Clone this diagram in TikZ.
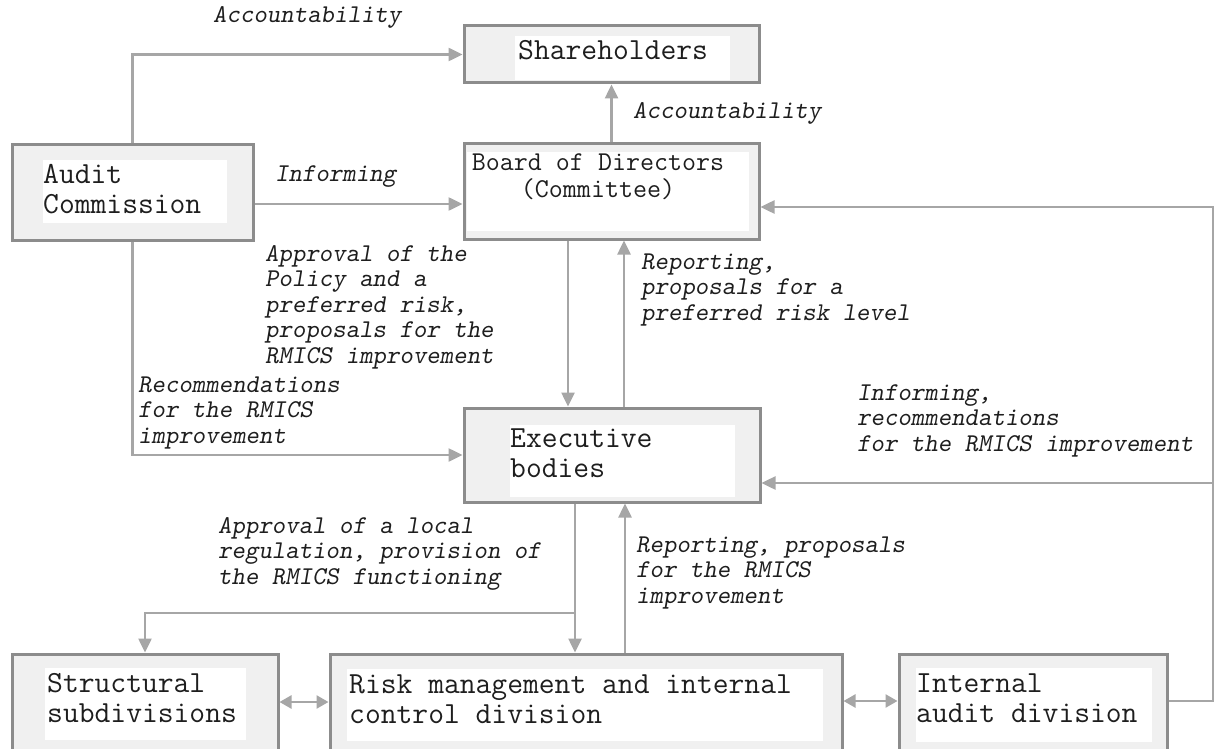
\documentclass[tikz,border=0pt]{standalone}
\usepackage{fontspec}
\usetikzlibrary{arrows.meta}
\definecolor{frame}{HTML}{8C8C8C}
\definecolor{panel}{HTML}{F0F0F0}
\definecolor{wire}{HTML}{A6A6A6}
\definecolor{ink}{HTML}{1E1E1E}
% left- or centre-aligned stack of lines whose baseline is the first line
\newcommand{\stack}[2][l]{\begin{tabular}[t]{@{}#1@{}}#2\end{tabular}}

\begin{document}
\begin{tikzpicture}[x=1pt,y=-1pt,
  box/.style={draw=frame, fill=panel, line width=3pt, rectangle, inner sep=0pt},
  boxtext/.style={text=ink, inner sep=0pt, anchor=base west,
    font=\fontsize{30.7}{30}\selectfont\ttfamily},
  note/.style={text=ink, inner sep=0pt, anchor=base west,
    font=\fontsize{25.6}{25.5}\selectfont\ttfamily\slshape},
  arr/.style={draw=wire, line width=2.5pt, -{Triangle[length=14pt,width=13pt]}},
  twoway/.style={draw=wire, line width=2.5pt,
    {Triangle[length=12pt,width=13pt]}-{Triangle[length=12pt,width=13pt]}},
]
\useasboundingbox (0,0) rectangle (1215,749);
\clip (0,0) rectangle (1215,749);
\fill[white] (0,0) rectangle (1215,749);

% ---- boxes ----
\node[box, minimum width=295pt, minimum height=57pt]  (sh) at (611.5,54.5) {};
\node[box, minimum width=295pt, minimum height=95pt]  (bd) at (611.5,191.5) {};
\node[box, minimum width=241pt, minimum height=95pt]  (ac) at (132.5,192.5) {};
\node[box, minimum width=296pt, minimum height=94pt]  (ex) at (612,455) {};
\node[box, minimum width=266pt, minimum height=102pt] (st) at (145,705) {};
\node[box, minimum width=512pt, minimum height=102pt] (rk) at (586,705) {};
\node[box, minimum width=268pt, minimum height=102pt] (ia) at (1033,705) {};

% white panes inside the boxes
\fill[white] (515,36) rectangle (730,80);
\fill[white] (467,152) rectangle (749,231);
\fill[white] (43,160) rectangle (227,223);
\fill[white] (510,425) rectangle (735,497);
\fill[white] (45,668) rectangle (246,740);
\fill[white] (347,669) rectangle (823,741);
\fill[white] (916,668) rectangle (1152,742);

% ---- box captions ----
\node[boxtext] (sh-t) at (518,60) {Shareholders};
\node[boxtext, anchor=base, font=\fontsize{27.2}{27}\selectfont\ttfamily] (bd-t) at (598,170)
  {\stack[c]{Board of Directors\\(Committee)}};
\node[boxtext] (ac-t) at (43,183) {\stack{Audit\\Commission}};
\node[boxtext] (ex-t) at (510,447) {\stack{Executive\\bodies}};
\node[boxtext] (st-t) at (47,692) {\stack{Structural\\subdivisions}};
\node[boxtext] (rk-t) at (349,693) {\stack{Risk management and internal\\control division}};
\node[boxtext] (ia-t) at (916,692) {\stack{Internal\\audit division}};

% ---- connectors ----
\draw[arr] (ac.north) |- (sh.west);
\draw[arr] ([yshift=-11.5pt]ac.east) -- ([yshift=-12.5pt]bd.west);
\draw[arr] (ac.south) |- (ex.west);
\draw[arr] (bd.north) -- (sh.south);
\draw[arr] ([xshift=-43.5pt]bd.south) coordinate (down1) -- (down1 |- ex.north);
\draw[arr] ([xshift=12pt]ex.north) coordinate (up1) -- (up1 |- bd.south);
\coordinate (fork) at (575,613);
\draw[arr] (fork |- ex.south) -- (fork |- rk.north);
\draw[arr] (fork) -| (st.north);
\draw[arr] ([xshift=39pt]rk.north) coordinate (up2) -- (up2 |- ex.south);
\draw[twoway] ([yshift=3pt]st.east) -- ([yshift=3pt]rk.west);
\draw[twoway] ([yshift=4pt]rk.east) -- ([yshift=4pt]ia.west);
\coordinate (rbot) at (1213,701);
\coordinate (rtop) at (1213,207);
\coordinate (rmid) at (1213,483);
\draw[arr] ([yshift=4pt]ia.east) -- (rbot) -- (rtop) -- (rtop -| bd.east);
\draw[arr] (rmid) -- (rmid -| ex.east);

% ---- connector labels ----
\node[note] (l-acc1) at (213,23) {Accountability};
\node[note] (l-acc2) at (633,119) {Accountability};
\node[note] (l-inf1) at (275,181) {Informing};
\node[note] (l-appr1) at (265,261)
  {\stack{Approval of the\\Policy and a\\preferred risk,\\proposals for the\\RMICS improvement}};
\node[note] (l-rep1) at (641,269) {\stack{Reporting,\\proposals for a\\preferred risk level}};
\node[note] (l-rec) at (138,392) {\stack{Recommendations\\for the RMICS\\improvement}};
\node[note] (l-inf2) at (857,400)
  {\stack{Informing,\\recommendations\\for the RMICS improvement}};
\node[note] (l-appr2) at (218,533)
  {\stack{Approval of a local\\regulation, provision of\\the RMICS functioning}};
\node[note] (l-rep2) at (636,552) {\stack{Reporting, proposals\\for the RMICS\\improvement}};
\end{tikzpicture}
\end{document}
